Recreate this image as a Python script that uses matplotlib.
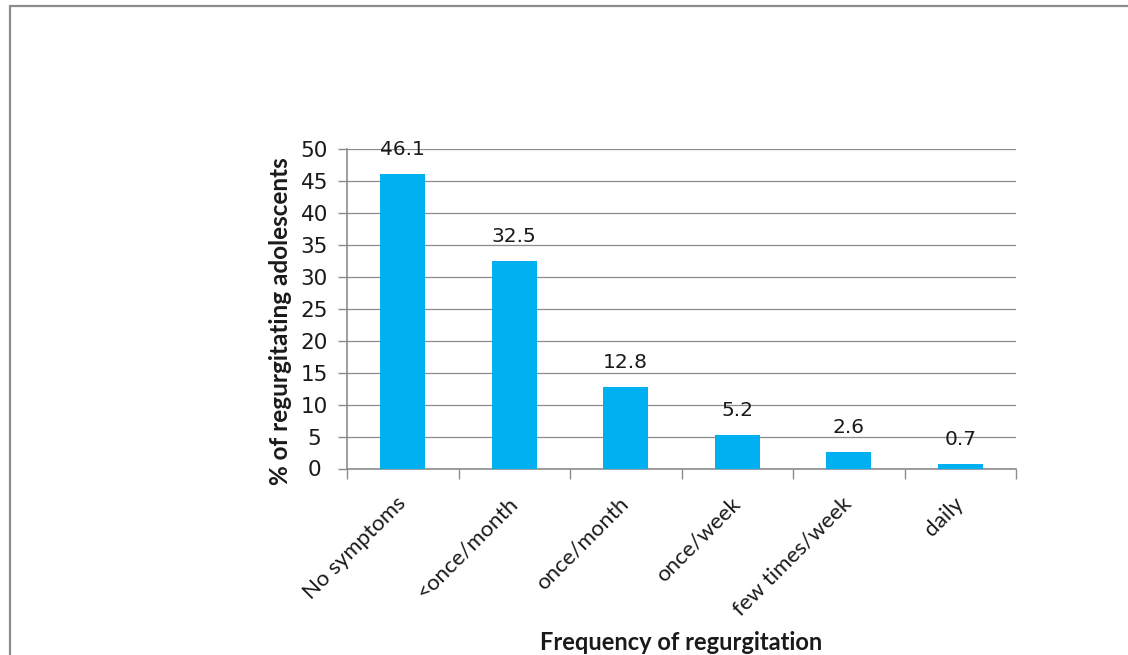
import matplotlib
matplotlib.use("Agg")
import matplotlib.pyplot as plt
from matplotlib.patches import Rectangle
from matplotlib.ticker import FixedLocator
import numpy as np

# Share of regurgitating adolescents by how often symptoms occur
categories = ["No symptoms", "<once/month", "once/month", "once/week",
              "few times/week", "daily"]
values = [46.1, 32.5, 12.8, 5.2, 2.6, 0.7]
y_ticks = [0, 5, 10, 15, 20, 25, 30, 35, 40, 45, 50]
x_title = "Frequency of regurgitation"
y_title = "% of regurgitating adolescents"

BAR = "#00B0F0"
GRID = "#8c8c8c"
TEXT = "#1a1a1a"

W, H = 1128, 655
fig = plt.figure(figsize=(W / 100, H / 100), dpi=100)
fig.patch.set_facecolor("white")

# outer chart frame (runs off the right and bottom edges)
fig.add_artist(Rectangle((9.5 / W, -0.1), 1.2, 1 - 6 / H + 0.1,
                         transform=fig.transFigure, fill=False,
                         ec=GRID, lw=1.6))

left, right = 347 / W, 1016 / W
top, bottom = 1 - 149 / H, 1 - 468.5 / H
ax = fig.add_axes([left, bottom, right - left, top - bottom])

x = np.arange(len(categories))
ax.bar(x, values, width=0.4, color=BAR, zorder=3)

ax.set_xlim(-0.5, len(categories) - 0.5)
ax.set_ylim(y_ticks[0], y_ticks[-1])

ax.yaxis.set_major_locator(FixedLocator(y_ticks))
ax.grid(axis="y", color=GRID, lw=0.9, zorder=1)
ax.set_axisbelow(True)

for side in ("top", "right"):
    ax.spines[side].set_visible(False)
for side in ("left", "bottom"):
    ax.spines[side].set_color(GRID)
    ax.spines[side].set_linewidth(1.2)

# y tick labels centred in their column
ax.tick_params(axis="y", direction="out", length=6.5, width=1.0, color=GRID,
               pad=17, labelsize=15.5, labelcolor=TEXT)
ax.set_yticks(y_ticks)
ax.set_yticklabels([str(t) for t in y_ticks], family="DejaVu Sans")
for lab in ax.get_yticklabels():
    lab.set_horizontalalignment("center")

# category labels at bar centres, tick marks at category boundaries
ax.set_xticks(x)
ax.set_xticks(np.arange(-0.5, len(categories), 1.0), minor=True)
ax.tick_params(axis="x", which="major", length=0, pad=23)
ax.tick_params(axis="x", which="minor", direction="out", length=7.5,
               width=1.0, color=GRID)
ax.set_xticklabels(categories, rotation=45, ha="right", va="center",
                   rotation_mode="anchor", family="Lato", fontsize=16,
                   color=TEXT)

# value labels above bars
for xi, v in zip(x, values):
    ax.annotate(f"{v:.1f}", (xi, v), xytext=(0, 13.7),
                textcoords="offset points", ha="center", va="baseline",
                fontsize=14.5, family="DejaVu Sans", color=TEXT, zorder=4)

fig.text((left + right) / 2, 1 - 642 / H, x_title, ha="center",
         va="center", family="Lato", fontweight="bold", fontsize=17,
         color=TEXT)
fig.text(280 / W, 1 - 321 / H, y_title, ha="center", va="center",
         rotation=90, family="Lato", fontweight="bold", fontsize=17.5,
         color=TEXT)

fig.savefig("out.png", dpi=100, facecolor="white")
